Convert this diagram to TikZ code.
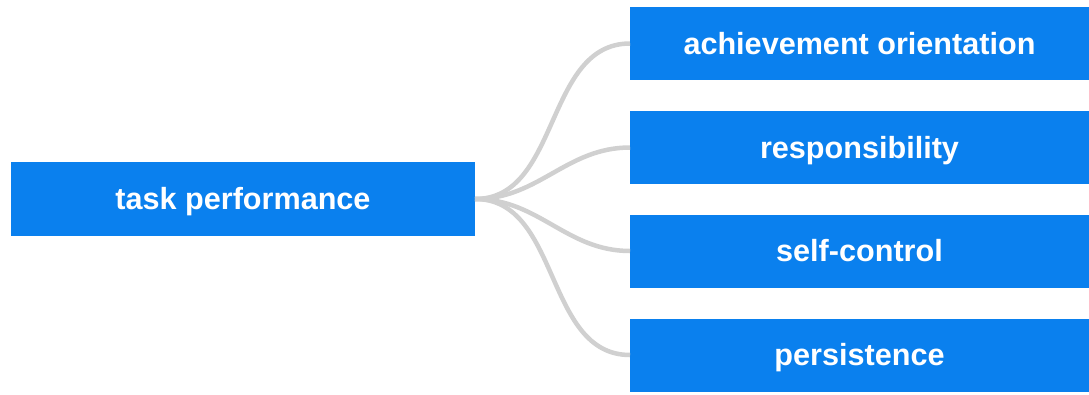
\documentclass[tikz,border=0pt]{standalone}
\usepackage{fontspec}
\setmainfont{Liberation Sans}
\definecolor{boxblue}{RGB}{10,128,238}
\definecolor{linegray}{RGB}{208,208,208}
\begin{document}
\begin{tikzpicture}[x=1pt, y=-1pt,
    box/.style={fill=boxblue, text=white, font=\fontsize{30.6}{34}\selectfont\bfseries, text height=27pt, text depth=6pt, inner sep=0, outer sep=0},
    link/.style={draw=linegray, line width=4.5pt, out=0, in=180}]
    \useasboundingbox (0,0) rectangle (1089,394);
    \node[box, minimum width=464pt, minimum height=74pt] (task) at (243,199) {task performance};
    \node[box, minimum width=459pt, minimum height=73pt] (ach) at (859.5,43.5) {achievement orientation};
    \node[box, minimum width=459pt, minimum height=73pt] (resp) at (859.5,147.5) {responsibility};
    \node[box, minimum width=459pt, minimum height=73pt] (self) at (859.5,251) {self-control};
    \node[box, minimum width=459pt, minimum height=73pt] (pers) at (859.5,355) {persistence};
    \draw[link] (task.east) to (ach.west);
    \draw[link] (task.east) to (resp.west);
    \draw[link] (task.east) to (self.west);
    \draw[link] (task.east) to (pers.west);
\end{tikzpicture}
\end{document}
